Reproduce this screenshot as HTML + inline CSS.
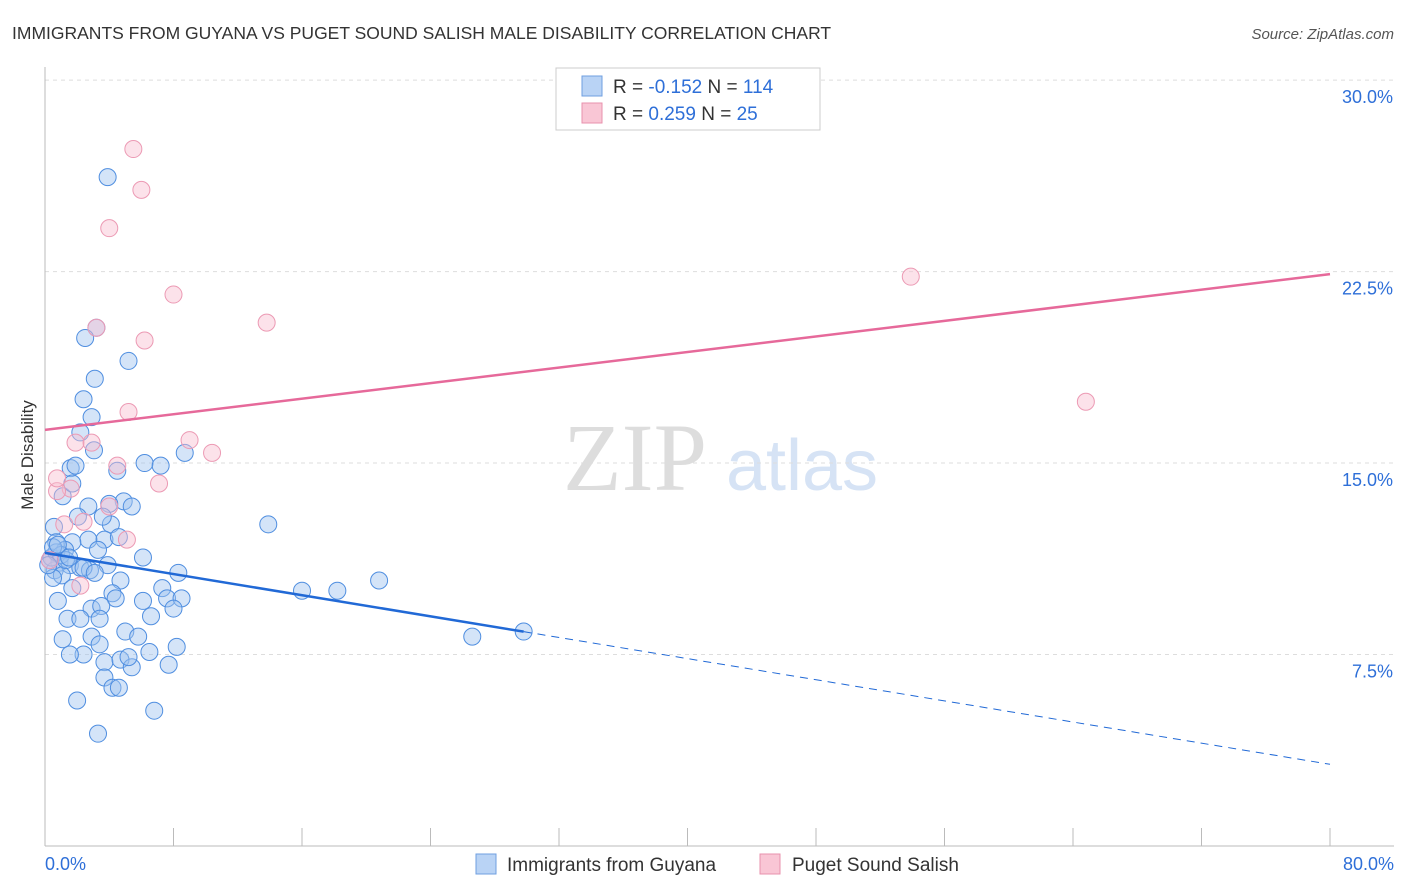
<!DOCTYPE html>
<html><head><meta charset="utf-8">
<style>
body{margin:0;background:#fff;font-family:"Liberation Sans",sans-serif;}
svg{display:block}
</style></head>
<body>
<svg id="chart" width="1406" height="892" xmlns="http://www.w3.org/2000/svg">
<text x="12" y="39" font-size="17.5" fill="#333">IMMIGRANTS FROM GUYANA VS PUGET SOUND SALISH MALE DISABILITY CORRELATION CHART</text>
<text x="1394" y="39" font-size="15" fill="#555" font-style="italic" text-anchor="end">Source: ZipAtlas.com</text>
<text x="33" y="455" font-size="17" fill="#333" text-anchor="middle" transform="rotate(-90 33 455)">Male Disability</text>
<g>
<text x="635" y="490" font-size="96" fill="#ddd" font-family="Liberation Serif,serif" text-anchor="middle">ZIP</text>
<text x="802" y="490" font-size="72" fill="#d6e3f5" text-anchor="middle">atlas</text>
</g>
<g id="grid"></g><g id="axes"></g><g id="marks"></g>
<g>
<rect x="556" y="68" width="264" height="62" fill="#fff" stroke="#ccc"/>
<rect x="582" y="76" width="20" height="20" fill="#b9d3f5" stroke="#6f9fe0"/>
<rect x="582" y="103" width="20" height="20" fill="#f9c6d5" stroke="#e891ad"/>
<text x="613" y="93" font-size="19" fill="#333">R = <tspan fill="#2e6fd8">-0.152</tspan>    N = <tspan fill="#2e6fd8">114</tspan></text>
<text x="613" y="120" font-size="19" fill="#333">R =  <tspan fill="#2e6fd8">0.259</tspan>    N =  <tspan fill="#2e6fd8">25</tspan></text>
</g>
<g>
<rect x="476" y="854" width="20" height="20" fill="#b9d3f5" stroke="#6f9fe0"/>
<text x="507" y="871" font-size="19" fill="#333">Immigrants from Guyana</text>
<rect x="760" y="854" width="20" height="20" fill="#f9c6d5" stroke="#e891ad"/>
<text x="792" y="871" font-size="19" fill="#333">Puget Sound Salish</text>
</g>
</svg>
<script>
const yTicks=[7.5,15,22.5,30];
const yTickLabels=["7.5%","15.0%","22.5%","30.0%"];
const xTickLabels=["0.0%","80.0%"];
const guyanaX=[3.9,3.2,2.5,5.2,3.1,2.4,2.9,2.2,3.05,4.5,1.6,1.9,1.1,1.7,2.7,4.9,4.0,5.4,2.05,4.1,3.6,6.2,7.2,8.7,13.9,0.56,3.7,4.6,2.7,0.7,1.7,1.25,3.3,6.1,0.3,0.9,1.55,2.2,2.8,3.9,0.6,1.05,2.4,3.1,4.7,8.3,7.3,16.0,18.2,20.8,0.5,0.8,1.7,4.2,6.1,7.6,8.5,8.0,4.4,2.9,3.5,1.4,2.2,3.4,6.6,5.0,5.8,1.1,2.9,3.4,8.2,2.4,1.55,3.7,4.7,5.4,5.2,6.5,7.7,3.7,4.2,4.6,2.0,6.8,3.3,26.6,29.8,0.4,0.7,1.0,1.3,0.2,0.5,0.8,1.5];
const guyanaY=[26.2,20.3,19.9,19.0,18.3,17.5,16.8,16.2,15.5,14.7,14.8,14.9,13.7,14.2,13.3,13.5,13.4,13.3,12.9,12.6,12.9,15.0,14.9,15.4,12.6,12.5,12.0,12.1,12.0,11.9,11.9,11.6,11.6,11.3,11.2,11.1,11.0,10.9,10.8,11.0,10.8,10.6,10.9,10.7,10.4,10.7,10.1,10.0,10.0,10.4,10.5,9.6,10.1,9.9,9.6,9.7,9.7,9.3,9.7,9.3,9.4,8.9,8.9,8.9,9.0,8.4,8.2,8.1,8.2,7.9,7.8,7.5,7.5,7.2,7.3,7.0,7.4,7.6,7.1,6.6,6.2,6.2,5.7,5.3,4.4,8.2,8.4,11.3,11.5,11.4,11.2,11.0,11.7,11.8,11.3];
const salishX=[5.5,6.0,4.0,8.0,13.8,6.2,3.2,53.9,64.8,5.2,1.9,2.9,9.0,10.4,4.5,7.1,1.6,0.75,0.75,4.0,1.2,2.4,5.1,2.2,0.3];
const salishY=[27.3,25.7,24.2,21.6,20.5,19.8,20.3,22.3,17.4,17.0,15.8,15.8,15.9,15.4,14.9,14.2,14.0,13.9,14.4,13.3,12.6,12.7,12.0,10.2,11.2];
const guyanaTrend=[11.48,3.2];
const salishTrend=[16.3,22.4];
const NS="http://www.w3.org/2000/svg";
const sx=v=>45+v*(1285/80);
const sy=v=>846-v*25.53;
function mk(tag,attrs,parent){const e=document.createElementNS(NS,tag);for(const k in attrs)e.setAttribute(k,attrs[k]);parent.appendChild(e);return e;}
const grid=document.getElementById('grid'),axes=document.getElementById('axes'),marks=document.getElementById('marks');
yTicks.forEach((t,i)=>{
 const l=mk('line',{x1:45,x2:1394,y1:sy(t),y2:sy(t),stroke:'#ddd','stroke-dasharray':'4,4'},grid);
 
 
 const tx=mk('text',{x:1393,y:sy(t)+23,'font-size':18,fill:'#2e6fd8','text-anchor':'end'},axes);
 tx.textContent=yTickLabels[i];
 
 
});
const ya=mk('line',{x1:45,x2:45,y1:67,y2:846,stroke:'#bbb'},axes);


const xa=mk('line',{x1:45,x2:1394,y1:846,y2:846,stroke:'#bbb'},axes);


for(let i=0;i<=10;i++){
 const t=mk('line',{x1:sx(i*8),x2:sx(i*8),y1:828,y2:846,stroke:'#bbb'},axes);
 
 
}
[[0,'start',45],[80,'end',1394]].forEach((p,i)=>{
 const tx=mk('text',{x:p[2],y:870,'font-size':18,fill:'#2e6fd8','text-anchor':p[1]},axes);
 tx.textContent=xTickLabels[i];
 
 
});
guyanaX.forEach((x,i)=>{
 const c=mk('circle',{cx:sx(x),cy:sy(guyanaY[i]),r:8.5,fill:'rgba(160,195,240,0.45)',stroke:'#4f8ee0','stroke-width':1},marks);
 
 
});
salishX.forEach((x,i)=>{
 const c=mk('circle',{cx:sx(x),cy:sy(salishY[i]),r:8.5,fill:'rgba(248,190,208,0.45)',stroke:'#ec9ab4','stroke-width':1},marks);
 
 
});
const gAt=x=>guyanaTrend[0]+(guyanaTrend[1]-guyanaTrend[0])*x/80;
const l1=mk('line',{x1:sx(0),y1:sy(gAt(0)),x2:sx(29.8),y2:sy(gAt(29.8)),stroke:'#2169d6','stroke-width':2.5},marks);


const l2=mk('line',{x1:sx(29.8),y1:sy(gAt(29.8)),x2:sx(80),y2:sy(gAt(80)),stroke:'#2169d6','stroke-width':1,'stroke-dasharray':'8,6'},marks);


const l3=mk('line',{x1:sx(0),y1:sy(salishTrend[0]),x2:sx(80),y2:sy(salishTrend[1]),stroke:'#e6699a','stroke-width':2.5},marks);


</script>
</body></html>
